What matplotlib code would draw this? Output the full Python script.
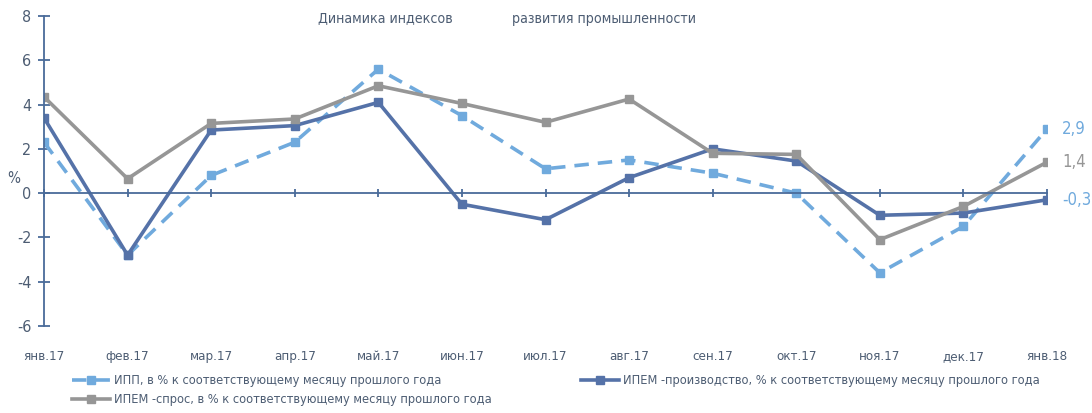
import matplotlib.pyplot as plt

plt.rcParams['font.family'] = ['DejaVu Sans']
plt.rcParams['font.stretch'] = 'condensed'
plt.rcParams['axes.unicode_minus'] = False

months = ['янв.17', 'фев.17', 'мар.17', 'апр.17', 'май.17', 'июн.17', 'июл.17',
          'авг.17', 'сен.17', 'окт.17', 'ноя.17', 'дек.17', 'янв.18']
ipp = [2.3, -2.8, 0.8, 2.3, 5.6, 3.5, 1.1, 1.5, 0.9, 0.0, -3.6, -1.5, 2.9]
ipem_prod = [3.4, -2.8, 2.85, 3.05, 4.1, -0.5, -1.2, 0.7, 2.0, 1.45, -1.0, -0.9, -0.3]
ipem_demand = [4.35, 0.65, 3.15, 3.35, 4.85, 4.05, 3.2, 4.25, 1.8, 1.75, -2.1, -0.6, 1.4]
end_labels = ['2,9', '1,4', '-0,3']

c_ipp = '#70aadd'
c_prod = '#5572a8'
c_dem = '#969696'
c_axis = '#4a6b9a'
c_text = '#4d5d73'

fig = plt.figure(figsize=(10.92, 4.13), dpi=100)
ax = fig.add_axes([0.0403, 0.2107, 0.9185, 0.7505])

x = list(range(len(months)))
l1, = ax.plot(x, ipp, color=c_ipp, lw=2.6, ls=(0, (4, 2.5)), marker='s', ms=5.5,
              label='ИПП, в % к соответствующему месяцу прошлого года')
l2, = ax.plot(x, ipem_prod, color=c_prod, lw=2.6, marker='s', ms=5.5,
              label='ИПЕМ -производство, % к соответствующему месяцу прошлого года')
l3, = ax.plot(x, ipem_demand, color=c_dem, lw=2.6, marker='s', ms=5.5,
              label='ИПЕМ -спрос, в % к соответствующему месяцу прошлого года')

ax.set_xlim(0, 12)
ax.set_ylim(-6, 8)
ax.set_yticks(range(-6, 9, 2))
ax.set_xticks(x)
ax.set_xticklabels(months)

for s in ['top', 'right']:
    ax.spines[s].set_visible(False)
ax.spines['bottom'].set_position(('data', 0))
ax.spines['bottom'].set_color(c_axis)
ax.spines['left'].set_color(c_axis)
ax.spines['bottom'].set_linewidth(1.3)
ax.spines['left'].set_linewidth(1.3)
ax.tick_params(axis='x', direction='inout', length=6, width=1.3, color=c_axis,
               pad=110, labelsize=9.5, labelcolor=c_text)
ax.tick_params(axis='y', direction='inout', length=8, width=1.3, color=c_axis,
               labelsize=11.5, labelcolor=c_text, pad=5)

for val, lab, col in zip([ipp[-1], ipem_demand[-1], ipem_prod[-1]], end_labels,
                         [c_ipp, c_dem, c_ipp]):
    ax.annotate(lab, (12, val), xytext=(11, 0), textcoords='offset points',
                va='center', ha='left', fontsize=12, color=col, annotation_clip=False)

ax.text(-0.03, 0.475, '%', transform=ax.transAxes, fontsize=11, color=c_text,
        ha='center', va='center')
# заголовок в две части, как в оригинале
fig.text(0.291, 0.955, 'Динамика индексов', fontsize=10.2, color=c_text,
         ha='left', va='center')
fig.text(0.469, 0.955, 'развития промышленности', fontsize=10.2, color=c_text,
         ha='left', va='center')

fig.legend(handles=[l1, l3, l2], ncol=2, loc='center left', bbox_to_anchor=(0.055, 0.055),
           frameon=False, fontsize=9.2, labelcolor=c_text, columnspacing=7,
           handlelength=3, handletextpad=0.3, labelspacing=0.5)

fig.savefig('out.png', dpi=100)
